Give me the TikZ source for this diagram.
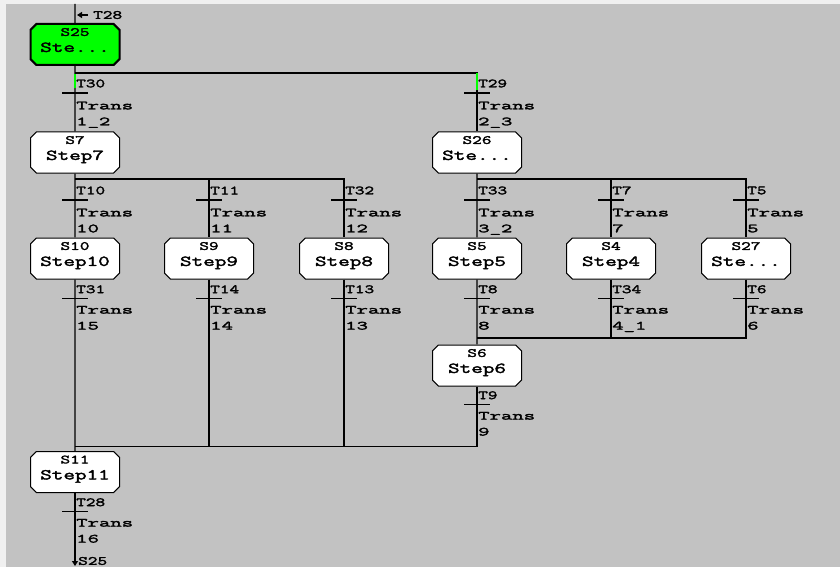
\documentclass[tikz,border=0pt]{standalone}
\usepackage{fontspec}
\usepackage{xcolor}
\usepackage{tikz}
\usetikzlibrary{shapes.misc, arrows.meta, positioning}
\newfontfamily\plcfont[FakeStretch=1.5, FakeBold=2.5]{Latin Modern Mono}
\newfontfamily\plcwide[FakeStretch=1.77, FakeBold=2.5]{Latin Modern Mono}
\definecolor{panelgray}{RGB}{194,194,194}
\definecolor{framegray}{RGB}{240,240,240}
\definecolor{activegreen}{RGB}{0,255,0}
\tikzset{
  link/.style={line width=1.3pt},
  activelink/.style={activegreen, line width=1.6pt},
  stepbox/.style={draw=black, line width=1pt, fill=white, chamfered rectangle,
    chamfered rectangle xsep=3pt, minimum width=89pt, minimum height=41pt,
    inner sep=0pt, align=center, text depth=9pt, font=\fontsize{15}{16}\plcfont},
  initstep/.style={stepbox, fill=activegreen, line width=2pt},
  tlabel/.style={font=\fontsize{12.5}{12}\plcfont, inner sep=0pt},
  tbar/.style={fill=black, inner sep=0pt, minimum width=26pt, minimum height=1pt},
  tbold/.style={minimum height=2.6pt},
  transbar/.style 2 args={tbar,
    label={[tlabel, anchor=west, xshift=1pt, yshift=8pt]90:#1},
    label={[tlabel, font=\fontsize{12.5}{16}\plcwide, anchor=north west,
      align=left, xshift=1pt, yshift=-7pt]270:Trans\\#2}},
}
\newcommand\steptag[1]{{\fontsize{12.5}{12}\selectfont #1}}
\begin{document}
\begin{tikzpicture}[x=1pt, y=-1pt]
  \useasboundingbox (0,0) rectangle (840,567);
  \fill[panelgray] (0,0) rectangle (840,567);
  \fill[framegray] (0,0) rectangle (840,4);
  \fill[framegray] (0,0) rectangle (6,567);

  % steps
  \node[initstep] (s25) at (75,44.5) {\steptag{S25}\\Ste...};
  \node[stepbox] (s7) at (75,152.5) {\steptag{S7}\\Step7};
  \node[stepbox] (s26) at (477,152.5) {\steptag{S26}\\Ste...};
  \node[stepbox] (s10) at (75,258.5) {\steptag{S10}\\Step10};
  \node[stepbox] (s9) at (209,258.5) {\steptag{S9}\\Step9};
  \node[stepbox] (s8) at (344,258.5) {\steptag{S8}\\Step8};
  \node[stepbox] (s5) at (477,258.5) {\steptag{S5}\\Step5};
  \node[stepbox] (s4) at (611,258.5) {\steptag{S4}\\Step4};
  \node[stepbox] (s27) at (746,258.5) {\steptag{S27}\\Ste...};
  \node[stepbox] (s6) at (477,365.5) {\steptag{S6}\\Step6};
  \node[stepbox] (s11) at (75,472) {\steptag{S11}\\Step11};

  % links
  \coordinate (in28) at (75,4);
  \coordinate (out25) at (75,566);
  \draw[link] (in28) -- (s25);
  \draw[link] (s25) -- (s7);
  \draw[link] ([yshift=-7pt]s25.south) -| (s26);
  \draw[link] (s7) -- (s10);
  \draw[link] ([yshift=-5.5pt]s7.south) -| (s9);
  \draw[link] ([yshift=-5.5pt]s7.south) -| (s8);
  \draw[link] (s26) -- (s5);
  \draw[link] ([yshift=-5.5pt]s26.south) -| (s4);
  \draw[link] ([yshift=-5.5pt]s26.south) -| (s27);
  \draw[link] (s5) -- (s6);
  \draw[link] (s4) |- ([yshift=6.5pt]s6.north);
  \draw[link] (s27) |- ([yshift=6.5pt]s6.north);
  \draw[link] (s10) -- (s11);
  \draw[link] (s9) |- ([yshift=4.5pt]s11.north);
  \draw[link] (s8) |- ([yshift=4.5pt]s11.north);
  \draw[link] (s6) |- ([yshift=4.5pt]s11.north);
  \draw[link, -{Triangle[length=5pt, width=6pt]}] (s11) -- (out25);

  % transitions
  \node[transbar={T30}{1\_2}, tbold] (t30) at (75,93) {};
  \node[transbar={T29}{2\_3}, tbold] (t29) at (477,93) {};
  \node[transbar={T10}{10}, tbold] (t10) at (75,200) {};
  \node[transbar={T11}{11}, tbold] (t11) at (209,200) {};
  \node[transbar={T32}{12}, tbold] (t32) at (344,200) {};
  \node[transbar={T33}{3\_2}, tbold] (t33) at (477,200) {};
  \node[transbar={T7}{7}, tbold] (t7) at (611,200) {};
  \node[transbar={T5}{5}, tbold] (t5) at (746,200) {};
  \node[transbar={T31}{15}] (t31) at (75,298) {};
  \node[transbar={T14}{14}] (t14) at (209,298) {};
  \node[transbar={T13}{13}] (t13) at (344,298) {};
  \node[transbar={T8}{8}] (t8) at (477,298) {};
  \node[transbar={T34}{4\_1}] (t34) at (611,298) {};
  \node[transbar={T6}{6}] (t6) at (746,298) {};
  \node[transbar={T9}{9}] (t9) at (477,404) {};
  \node[transbar={T28}{16}] (t28) at (75,511) {};
  \draw[activelink] ([yshift=3pt]t30.north) -- ++(0,-14);
  \draw[activelink] ([yshift=1pt]t29.north) -- ++(0,-17);

  % jump labels
  \node[tlabel, anchor=west] (from28) at (93,15) {T28};
  \draw[line width=1.2pt, -{Triangle[length=5pt, width=6pt]}] (from28.west) ++(-5,0) -- ++(-11,0);
  \node[tlabel, anchor=west] (to25) at (78,561) {S25};
\end{tikzpicture}
\end{document}
